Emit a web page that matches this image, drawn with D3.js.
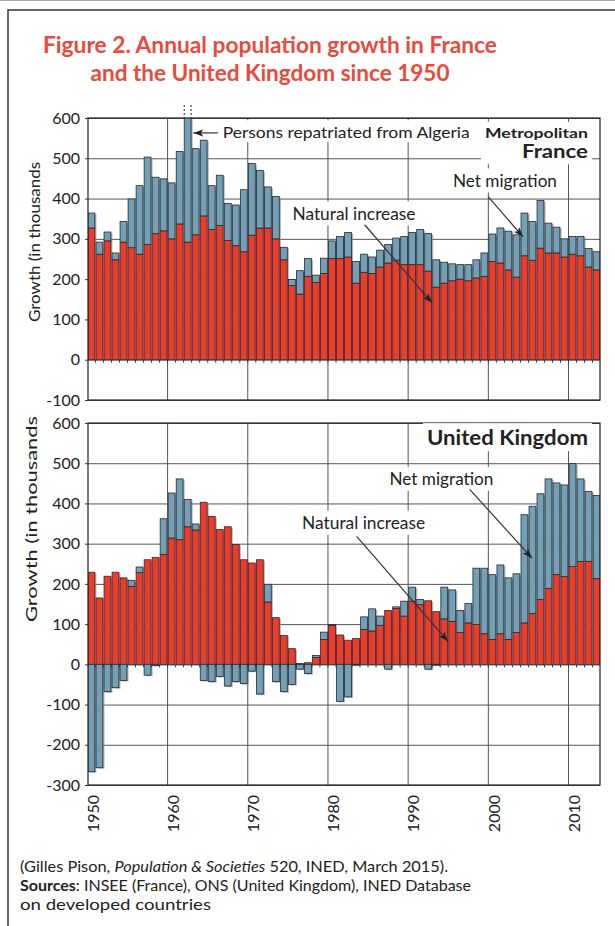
<!DOCTYPE html>
<html>
<head>
<meta charset="utf-8">
<script src="https://cdn.jsdelivr.net/npm/d3@7"></script>
<style>
  body { margin: 0; background: #fff; }
  svg { display: block; }
  text { font-family: Lato, "Open Sans", sans-serif; fill: #222; }
</style>
</head>
<body>
<svg id="chart" width="615" height="926"></svg>
<script>
// categories
const years = d3.range(1950, 2014);
const decadeTicks = [1950, 1960, 1970, 1980, 1990, 2000, 2010];
const franceTicks = [-100, 0, 100, 200, 300, 400, 500, 600];
const ukTicks = [-300, -200, -100, 0, 100, 200, 300, 400, 500, 600];

// thousands
const franceNatural = [327,262,295,248,292,278,262,286,313,320, 300,337,292,310,357,323,333,296,283,268,
  309,327,327,300,248,184,163,207,192,214, 251,251,255,190,217,214,230,240,247,236,
  236,236,220,180,190,196,200,196,203,207, 244,240,223,205,258,247,277,265,265,255, 262,258,230,223];
const franceMigration = [37,30,22,17,51,121,170,217,140,129, 139,180,860,214,188,109,125,92,101,154,
  178,143,102,105,31,15,58,44,18,38, 44,55,61,54,45,41,42,46,55,70,
  80,87,93,68,52,42,36,40,45,58, 68,87,96,105,106,96,118,74,64,45, 44,48,46,45];
const ukNatural = [229,165,219,229,215,194,228,260,266,273, 314,310,342,334,403,368,335,342,298,260,
  252,260,155,116,72,39,2,4,17,62, 97,73,60,64,87,83,97,134,139,120,
  157,149,158,131,113,107,79,103,99,76, 62,76,62,79,103,126,161,189,223,218, 243,256,256,213];
const ukMigration = [-267,-257,-68,-58,-40,15,14,-27,-3,89, 112,151,68,15,-40,-43,-30,-54,-43,-48,
  -17,-74,44,-43,-68,-50,-12,-23,5,18, 2,-92,-81,-2,31,55,23,-12,4,37,
  35,12,-12,-2,79,78,55,48,140,163, 161,171,153,146,269,267,263,272,228,228, 256,205,174,207];

const RED = '#ee3b2b', BLUE = '#72a0b9', INK = '#222', GRID = '#555';
const left = 88, right = 600;

const svg = d3.select('#chart');

const x = d3.scaleBand().domain(years).range([left, right]).paddingInner(0.15).paddingOuter(0);
const gap = x.step() - x.bandwidth();
const xAt = t => left + (t - 1950) * x.step();

const defs = svg.append('defs');
defs.append('marker')
  .attr('id', 'arrow')
  .attr('viewBox', '0 -5 10 10')
  .attr('refX', 10).attr('refY', 0)
  .attr('markerWidth', 10).attr('markerHeight', 10)
  .attr('markerUnits', 'userSpaceOnUse')
  .attr('orient', 'auto')
  .append('path')
  .attr('d', 'M0,-3.6L10,0L0,3.6L2.5,0Z')
  .attr('fill', INK);

// page frame
svg.append('path').attr('d', 'M0,0.5H615').attr('stroke', '#aaa').attr('fill', 'none');
svg.append('path').attr('d', 'M8,926V10H615').attr('stroke', '#333').attr('stroke-width', 1.5).attr('fill', 'none');

// title
const title = svg.append('g').attr('font-weight', 700);
[['Figure 2. Annual population growth in France', 53, 454],
 ['and the United Kingdom since 1950', 81, 359]].forEach(([s, yy, len]) => {
  title.append('text')
    .attr('x', 270).attr('y', yy)
    .attr('text-anchor', 'middle')
    .attr('font-size', 23)
    .attr('textLength', len).attr('lengthAdjust', 'spacingAndGlyphs')
    .style('fill', '#e84a3c')
    .text(s);
});

function drawPanel(id, top, bottom, domain, ticks, natural, migration, axisTitle) {
  const y = d3.scaleLinear().domain(domain).range([bottom, top]);
  const g = svg.append('g').attr('class', 'panel-' + id);

  defs.append('clipPath').attr('id', 'clip-' + id)
    .append('rect')
    .attr('x', left).attr('y', top)
    .attr('width', right - left).attr('height', bottom - top);

  // grid
  g.selectAll('.hgrid').data(ticks).join('line')
    .attr('class', 'hgrid')
    .attr('x1', left).attr('x2', right)
    .attr('y1', d => y(d) + 0.5).attr('y2', d => y(d) + 0.5)
    .attr('stroke', GRID).attr('stroke-width', 1);
  g.selectAll('.vgrid').data(decadeTicks.slice(1)).join('line')
    .attr('class', 'vgrid')
    .attr('x1', d => x(d) - gap / 2).attr('x2', d => x(d) - gap / 2)
    .attr('y1', top).attr('y2', bottom)
    .attr('stroke', GRID).attr('stroke-width', 1);

  // stacked bars
  const segs = [];
  years.forEach((yr, i) => {
    const n = natural[i], m = migration[i];
    segs.push({yr, y0: 0, y1: n, c: RED});
    if (m >= 0) segs.push({yr, y0: n, y1: n + m, c: BLUE});
    else segs.push({yr, y0: m, y1: 0, c: BLUE});
  });
  const bars = g.append('g').attr('clip-path', 'url(#clip-' + id + ')');
  bars.selectAll('.shadow').data(segs).join('rect')
    .attr('class', 'shadow')
    .attr('x', d => x(d.yr) + 1.6)
    .attr('y', d => y(Math.max(d.y0, d.y1)) + 1)
    .attr('width', x.bandwidth())
    .attr('height', d => Math.abs(y(d.y0) - y(d.y1)))
    .attr('fill', '#8c8c8c').attr('opacity', 0.7);
  bars.selectAll('.bar').data(segs).join('rect')
    .attr('class', 'bar')
    .attr('x', d => x(d.yr))
    .attr('y', d => y(Math.max(d.y0, d.y1)))
    .attr('width', x.bandwidth())
    .attr('height', d => Math.abs(y(d.y0) - y(d.y1)))
    .attr('fill', d => d.c)
    .attr('stroke', '#2a2a2a').attr('stroke-width', 0.8);

  // small year ticks on the zero line
  g.selectAll('.yt').data(years.slice(1)).join('line')
    .attr('class', 'yt')
    .attr('x1', d => x(d) - gap / 2).attr('x2', d => x(d) - gap / 2)
    .attr('y1', y(0)).attr('y2', y(0) + 3)
    .attr('stroke', '#333');

  // frame
  g.append('rect')
    .attr('x', left).attr('y', top)
    .attr('width', right - left).attr('height', bottom - top)
    .attr('fill', 'none').attr('stroke', '#222').attr('stroke-width', 1.2);

  // y axis
  const ay = g.append('g').attr('transform', 'translate(' + left + ',0)')
    .call(d3.axisLeft(y).tickValues(ticks).tickSize(3).tickPadding(5).tickFormat(d => String(d)));
  ay.select('.domain').remove();
  ay.selectAll('line').attr('stroke', '#333');
  ay.selectAll('text').attr('font-size', 16).attr('font-family', null).style('fill', INK);

  g.append('text')
    .attr('transform', 'translate(' + axisTitle.x + ',' + axisTitle.y + ') rotate(-90)')
    .attr('text-anchor', 'middle')
    .attr('font-size', 16)
    .attr('textLength', axisTitle.len).attr('lengthAdjust', 'spacingAndGlyphs')
    .text('Growth (in thousands');

  return {g, y};
}

function label(g, px, py, str, o) {
  const t = g.append('text')
    .attr('x', px).attr('y', py)
    .attr('text-anchor', o.anchor || 'start')
    .attr('font-size', o.size || 16)
    .attr('font-weight', o.bold ? 700 : 400)
    .text(str);
  if (o.len) t.attr('textLength', o.len).attr('lengthAdjust', 'spacingAndGlyphs');
  return t;
}

function whiteBox(g, texts, pad) {
  const boxes = texts.map(t => t.node().getBBox());
  const x0 = d3.min(boxes, b => b.x) - pad, x1 = d3.max(boxes, b => b.x + b.width) + pad;
  const y0 = d3.min(boxes, b => b.y) - pad / 2, y1 = d3.max(boxes, b => b.y + b.height) + pad / 2;
  g.insert('rect', 'text')
    .attr('x', x0).attr('y', y0).attr('width', x1 - x0).attr('height', y1 - y0)
    .attr('fill', '#fff');
}

function arrow(g, xa, ya, xb, yb) {
  g.append('line')
    .attr('x1', xa).attr('y1', ya).attr('x2', xb).attr('y2', yb)
    .attr('stroke', '#333').attr('stroke-width', 1.2)
    .attr('marker-end', 'url(#arrow)');
}

// ---- France
const fr = drawPanel('fr', 118, 400, [-100, 600], franceTicks, franceNatural, franceMigration,
  {x: 40, y: 242, len: 160});
{
  const y = fr.y;
  const a = svg.append('g');
  const t1 = label(a, xAt(1966.8), y(551), 'Persons repatriated from Algeria', {size: 16, len: 247});
  const t2 = label(a, xAt(2012.35), y(551), 'Metropolitan', {size: 14, bold: true, anchor: 'end', len: 103});
  const t3 = label(a, xAt(2012.35), y(500), 'France', {size: 19, bold: true, anchor: 'end', len: 66});
  const t4 = label(a, xAt(2002.0), y(429), 'Net migration', {size: 17, anchor: 'middle', len: 104});
  const t5 = label(a, xAt(1975.5), y(347), 'Natural increase', {size: 17, len: 123});
  whiteBox(a, [t1], 3);
  whiteBox(a, [t2, t3], 4);
  whiteBox(a, [t4], 3);
  whiteBox(a, [t5], 3);
  arrow(a, xAt(1966.2), y(563), xAt(1963.13), y(563));
  arrow(a, xAt(1984.5), y(335), xAt(1992.9), y(141));
  arrow(a, xAt(1999.9), y(405), xAt(2004.25), y(305));
  // bar 1962 runs off the top of the scale
  [x(1962), x(1962) + x.bandwidth()].forEach(px => {
    a.append('line')
      .attr('x1', px).attr('x2', px).attr('y1', y(600) - 13).attr('y2', y(600))
      .attr('stroke', '#222').attr('stroke-dasharray', '2,2');
  });
}

// ---- United Kingdom
const uk = drawPanel('uk', 423, 785, [-300, 600], ukTicks, ukNatural, ukMigration,
  {x: 37, y: 519, len: 206});
{
  const y = uk.y;
  const a = svg.append('g');
  const t1 = label(a, xAt(2012.35), y(545), 'United Kingdom', {size: 20, bold: true, anchor: 'end', len: 161});
  const t2 = label(a, xAt(1994.08), y(445), 'Net migration', {size: 17, anchor: 'middle', len: 104});
  const t3 = label(a, xAt(1976.7), y(336), 'Natural increase', {size: 17, len: 123});
  whiteBox(a, [t1], 4);
  whiteBox(a, [t2], 3);
  whiteBox(a, [t3], 3);
  arrow(a, xAt(1997.6), y(435), xAt(2005.37), y(264));
  arrow(a, xAt(1983.5), y(318), xAt(1994.9), y(57));

  const ax = svg.append('g').attr('transform', 'translate(0,785)')
    .call(d3.axisBottom(x).tickValues(decadeTicks).tickSize(0));
  ax.select('.domain').remove();
  ax.selectAll('text')
    .attr('font-size', 16).attr('font-family', null)
    .attr('transform', 'rotate(-90)')
    .attr('text-anchor', 'end')
    .attr('x', -10).attr('y', 0).attr('dy', '0.45em')
    .style('fill', INK);
}

// ---- footer
const foot = svg.append('g').attr('font-size', 15);
foot.append('text').attr('x', 20).attr('y', 872)
  .attr('textLength', 428).attr('lengthAdjust', 'spacingAndGlyphs')
  .call(t => {
    t.append('tspan').text('(Gilles Pison, ');
    t.append('tspan').attr('font-style', 'italic').text('Population & Societies');
    t.append('tspan').text(' 520, INED, March 2015).');
  });
foot.append('text').attr('x', 20).attr('y', 891)
  .attr('textLength', 451).attr('lengthAdjust', 'spacingAndGlyphs')
  .call(t => {
    t.append('tspan').attr('font-weight', 700).text('Sources');
    t.append('tspan').text(': INSEE (France), ONS (United Kingdom), INED Database');
  });
foot.append('text').attr('x', 20).attr('y', 910)
  .attr('textLength', 191).attr('lengthAdjust', 'spacingAndGlyphs')
  .text('on developed countries');
</script>
</body>
</html>
